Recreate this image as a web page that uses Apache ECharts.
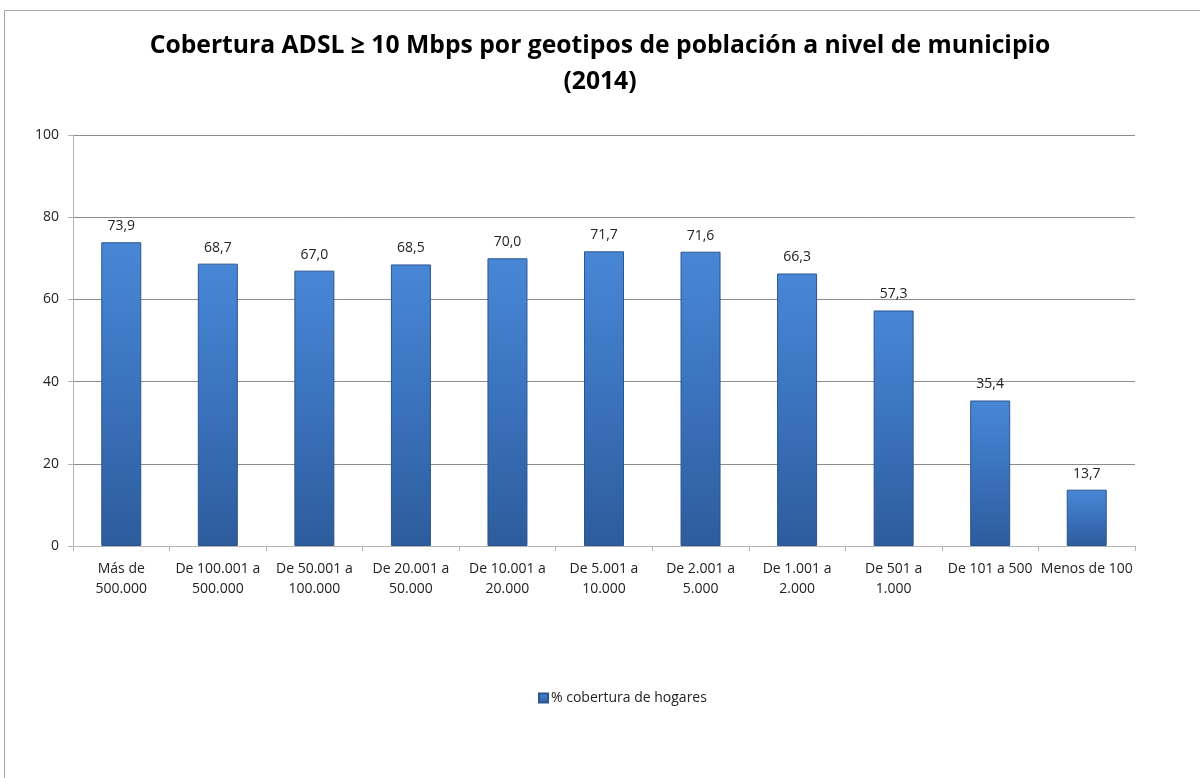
<!DOCTYPE html>
<html>
<head>
<meta charset="utf-8">
<script src="https://cdn.jsdelivr.net/npm/echarts@6/dist/echarts.min.js"></script>
<style>
  html, body { margin: 0; padding: 0; background: #ffffff; }
  #chart { width: 1200px; height: 778px; }
</style>
</head>
<body>
<div id="chart"></div>
<script>
// Geotipos de población (municipios) y % de hogares cubiertos
const categories = [
  'Más de\n500.000',
  'De 100.001 a\n500.000',
  'De 50.001 a\n100.000',
  'De 20.001 a\n50.000',
  'De 10.001 a\n20.000',
  'De 5.001 a\n10.000',
  'De 2.001 a\n5.000',
  'De 1.001 a\n2.000',
  'De 501 a\n1.000',
  'De 101 a 500',
  'Menos de 100'
];
const coverage = [73.9, 68.7, 67.0, 68.5, 70.0, 71.7, 71.6, 66.3, 57.3, 35.4, 13.7];
const seriesName = '% cobertura de hogares';
const yTicks = [0, 20, 40, 60, 80, 100];

const font = '"Open Sans", "Noto Sans", sans-serif';

const chart = echarts.init(document.getElementById('chart'), null, { renderer: 'canvas' });

// Vertical shading of the columns, lighter at the top
const barFill = {
  type: 'linear', x: 0, y: 0, x2: 0, y2: 1,
  colorStops: [
    { offset: 0, color: '#4887d6' },
    { offset: 0.5, color: '#3a72bc' },
    { offset: 1, color: '#2d5c9c' }
  ]
};

chart.setOption({
  animation: false,
  backgroundColor: '#ffffff',
  graphic: [{
    type: 'rect',
    shape: { x: 4.5, y: 10.5, width: 1300, height: 900 },
    style: { fill: 'none', stroke: '#a6a6a6', lineWidth: 1 },
    silent: true,
    z: -1
  }],
  title: {
    text: 'Cobertura ADSL ≥ 10 Mbps por geotipos de población a nivel de municipio\n(2014)',
    left: 'center',
    top: 23,
    textStyle: {
      fontFamily: font,
      fontSize: 24.7,
      fontWeight: 'bold',
      color: '#000000',
      lineHeight: 36
    }
  },
  legend: {
    data: [seriesName],
    left: 533,
    top: 686,
    itemWidth: 9,
    itemHeight: 9,
    itemGap: 4,
    icon: 'rect',
    textStyle: { fontFamily: font, fontSize: 14, color: '#222222', padding: [0, 0, 0, -2] }
  },
  grid: { left: 73, right: 65, top: 135, bottom: 232, containLabel: false },
  xAxis: {
    type: 'category',
    data: categories,
    axisLine: { lineStyle: { color: '#b3b3b3', width: 1 } },
    axisTick: { show: true, alignWithLabel: false, length: 5, lineStyle: { color: '#b3b3b3' } },
    axisLabel: {
      interval: 0,
      margin: 13,
      fontFamily: font,
      fontSize: 14,
      color: '#222222',
      lineHeight: 20
    },
    splitLine: { show: false }
  },
  yAxis: {
    type: 'value',
    min: yTicks[0],
    max: yTicks[yTicks.length - 1],
    interval: 20,
    axisLine: { show: true, lineStyle: { color: '#b3b3b3', width: 1 } },
    axisTick: { show: true, length: 5, lineStyle: { color: '#b3b3b3' } },
    axisLabel: {
      margin: 14,
      fontFamily: font,
      fontSize: 14,
      color: '#222222'
    },
    splitLine: { show: true, lineStyle: { color: '#8c8c8c', width: 1 } }
  },
  series: [{
    name: seriesName,
    type: 'bar',
    data: coverage,
    barWidth: 40,
    itemStyle: {
      color: barFill,
      borderColor: '#2a5591',
      borderWidth: 1
    },
    label: {
      show: true,
      position: 'top',
      distance: 9,
      fontFamily: font,
      fontSize: 14,
      color: '#222222',
      formatter: p => p.value.toFixed(1).replace('.', ',')
    }
  }]
});
</script>
</body>
</html>
